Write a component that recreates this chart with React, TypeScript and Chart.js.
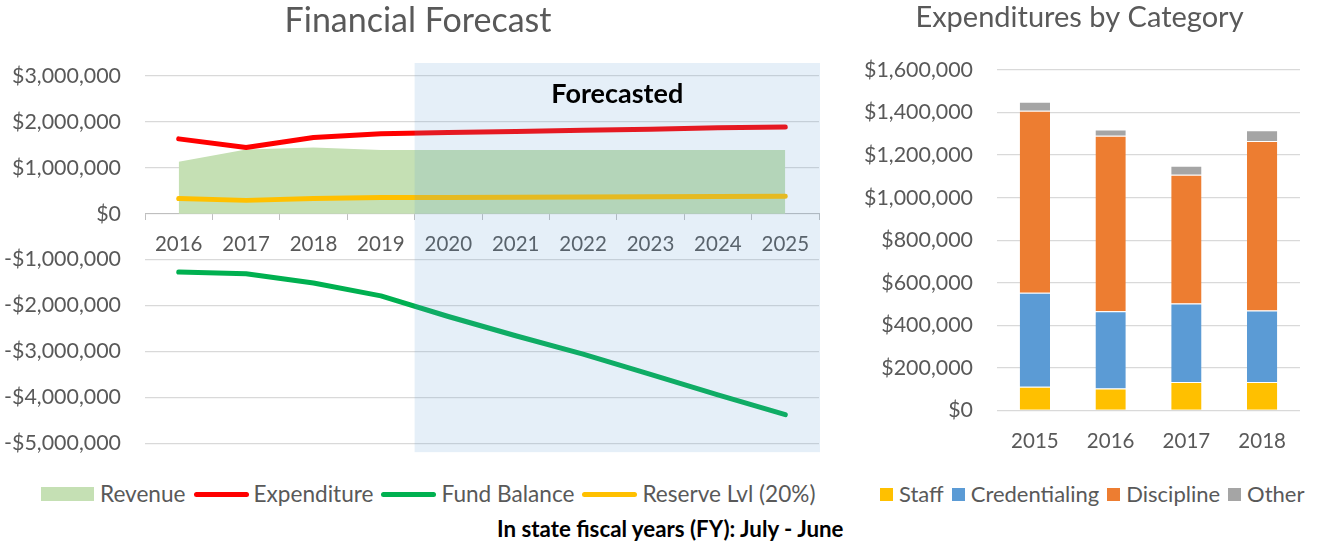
import React, { useEffect, useRef } from 'react';
import { Chart, registerables } from 'chart.js';

Chart.register(...registerables);

// ---------- data ----------
const forecastYears = ['2016', '2017', '2018', '2019', '2020', '2021', '2022', '2023', '2024', '2025'];
const forecastStartYear = '2020';
const revenue = [1130000, 1400000, 1440000, 1390000, 1390000, 1390000, 1390000, 1390000, 1390000, 1390000];
const expenditure = [1630000, 1440000, 1660000, 1740000, 1770000, 1790000, 1820000, 1840000, 1870000, 1890000];
const fundBalance = [-1270000, -1310000, -1510000, -1790000, -2240000, -2660000, -3060000, -3500000, -3950000, -4380000];
const reserveLevel = [330000, 290000, 330000, 350000, 355000, 360000, 365000, 370000, 375000, 380000];

const categoryYears = ['2015', '2016', '2017', '2018'];
const staff = [111000, 103000, 134000, 134000];
const credentialing = [442000, 363000, 369000, 336000];
const discipline = [856000, 825000, 605000, 796000];
const other = [42000, 29000, 42000, 51000];

// ---------- style ----------
const FONT = 'Lato, "Open Sans", sans-serif';
const TEXT = '#595959';
const GRID = '#D9D9D9';
const C_REV = '#C5E0B4';
const C_EXP = '#FF0000';
const C_FUND = '#00B050';
const C_RES = '#FFC000';
const C_STAFF = '#FFC000';
const C_CRED = '#5B9BD5';
const C_DISC = '#ED7D31';
const C_OTHER = '#A5A5A5';

const money = (v: number | string) => {
  const n = Number(v);
  const s = '$' + Math.abs(n).toLocaleString('en-US');
  return n < 0 ? '-' + s : s;
};

// Title drawn at an explicit centre (the reference title is not centred on the canvas)
const placedTitle = {
  id: 'placedTitle',
  afterDraw(chart: any, _args: any, opts: any) {
    if (!opts || !opts.text) return;
    const { ctx } = chart;
    ctx.save();
    ctx.fillStyle = TEXT;
    ctx.font = `${opts.size}px ${FONT}`;
    ctx.textAlign = 'center';
    ctx.textBaseline = 'middle';
    ctx.fillText(opts.text, opts.x, opts.y);
    ctx.restore();
  },
};

const forecastShade = {
  id: 'forecastShade',
  afterDraw(chart: any) {
    const { ctx, chartArea, scales } = chart;
    const idx = forecastYears.indexOf(forecastStartYear);
    const x0 = scales.x.getPixelForValue(idx - 0.5);
    const x1 = chartArea.right + 1;
    const y0 = chartArea.top - 13;
    const y1 = chartArea.bottom + 9;
    ctx.save();
    ctx.fillStyle = 'rgba(91,155,213,0.16)';
    ctx.fillRect(x0, y0, x1 - x0, y1 - y0);
    ctx.fillStyle = '#000000';
    ctx.font = 'bold 27px ' + FONT;
    ctx.textAlign = 'center';
    ctx.textBaseline = 'middle';
    ctx.fillText('Forecasted', (x0 + x1) / 2, chartArea.top + 18);
    ctx.restore();
  },
};

function ForecastChart() {
  const ref = useRef<HTMLCanvasElement>(null);
  useEffect(() => {
    const lineDs = (label: string, data: number[], color: string) => ({
      label,
      data,
      borderColor: color,
      backgroundColor: color,
      borderWidth: 5,
      pointRadius: 0,
      fill: false,
      tension: 0,
      borderCapStyle: 'round',
      borderJoinStyle: 'round',
      order: 0,
    });
    const chart = new Chart(ref.current as HTMLCanvasElement, {
      type: 'line',
      data: {
        labels: forecastYears,
        datasets: [
          {
            label: 'Revenue',
            data: revenue,
            fill: 'origin',
            backgroundColor: C_REV,
            borderColor: C_REV,
            borderWidth: 0,
            pointRadius: 0,
            tension: 0,
            order: 1,
          },
          lineDs('Expenditure', expenditure, C_EXP),
          lineDs('Fund Balance', fundBalance, C_FUND),
          lineDs('Reserve Lvl (20%)', reserveLevel, C_RES),
        ] as any,
      },
      options: {
        responsive: false,
        animation: false,
        layout: { padding: { left: 0, right: 11, top: 76, bottom: 18 } },
        plugins: {
          legend: { display: false },
          tooltip: { enabled: false },
          title: { display: false },
          placedTitle: { text: 'Financial Forecast', x: 418, y: 21, size: 34 },
        },
        scales: {
          x: {
            type: 'category',
            position: { y: 0 } as any,
            offset: true,
            grid: { drawOnChartArea: false, drawTicks: true, tickLength: 6, offset: true, color: '#BFBFBF' },
            border: { display: true, color: '#BFBFBF' },
            ticks: { color: TEXT, font: { family: FONT, size: 20.5 }, padding: 12, maxRotation: 0, autoSkip: false },
          },
          y: {
            min: -5000000,
            max: 3000000,
            ticks: { stepSize: 1000000, padding: 24, color: TEXT, font: { family: FONT, size: 21.4 }, callback: (v: any) => money(v) },
            grid: { color: GRID, drawTicks: false, lineWidth: 1.3 },
            border: { display: false },
            afterFit: (s: any) => { s.width = 145; },
          },
        },
      } as any,
      plugins: [forecastShade, placedTitle],
    });
    return () => chart.destroy();
  }, []);
  return <canvas ref={ref} width={830} height={480} style={{ position: 'absolute', left: 0, top: 0 }} />;
}

function CategoryChart() {
  const ref = useRef<HTMLCanvasElement>(null);
  useEffect(() => {
    const barDs = (label: string, data: number[], color: string) => ({
      label,
      data,
      backgroundColor: color,
      borderColor: 'rgba(255,255,255,0.7)',
      borderWidth: { top: 1, left: 0, right: 0, bottom: 0 },
      borderSkipped: false,
    });
    const chart = new Chart(ref.current as HTMLCanvasElement, {
      type: 'bar',
      data: {
        labels: categoryYears,
        datasets: [
          barDs('Staff', staff, C_STAFF),
          barDs('Credentialing', credentialing, C_CRED),
          barDs('Discipline', discipline, C_DISC),
          barDs('Other', other, C_OTHER),
        ] as any,
      },
      options: {
        responsive: false,
        animation: false,
        datasets: { bar: { categoryPercentage: 1, barPercentage: 0.4 } },
        layout: { padding: { left: 19, right: 19, top: 0, bottom: 7 } },
        plugins: {
          legend: { display: false },
          tooltip: { enabled: false },
          title: {
            display: true,
            text: 'Expenditures by Category',
            color: TEXT,
            font: { family: FONT, size: 29, weight: 'normal' },
            padding: { top: 0.6, bottom: 34.6 },
          },
        },
        scales: {
          x: {
            stacked: true,
            grid: { drawOnChartArea: false, drawTicks: false },
            border: { display: false },
            ticks: { color: TEXT, font: { family: FONT, size: 20.5 }, padding: 19 },
          },
          y: {
            stacked: true,
            min: 0,
            max: 1600000,
            ticks: { stepSize: 200000, padding: 24, color: TEXT, font: { family: FONT, size: 21.4 }, callback: (v: any) => money(v) },
            grid: { color: GRID, drawTicks: false, lineWidth: 1.3 },
            border: { display: false },
            afterFit: (s: any) => { s.width = 138; },
          },
        },
      } as any,
    });
    return () => chart.destroy();
  }, []);
  return <canvas ref={ref} width={479} height={480} style={{ position: 'absolute', left: 840, top: 0 }} />;
}

const legendText: React.CSSProperties = { marginRight: 8, whiteSpace: 'nowrap' };

export default function App() {
  const rowStyle: React.CSSProperties = {
    position: 'absolute',
    top: 482,
    height: 24,
    display: 'flex',
    alignItems: 'center',
    fontFamily: FONT,
    color: TEXT,
    lineHeight: '24px',
  };
  return (
    <div style={{ position: 'absolute', left: 0, top: 0, width: 1319, height: 543, background: '#fff', overflow: 'hidden' }}>
      <ForecastChart />
      <CategoryChart />
      <div style={{ ...rowStyle, left: 41, fontSize: 22.6 }}>
        <span style={{ width: 53, height: 14, background: C_REV, marginRight: 6, display: 'inline-block' }} />
        <span style={legendText}>Revenue</span>
        <span style={{ width: 55, height: 5, borderRadius: 3, background: C_EXP, marginRight: 5, display: 'inline-block' }} />
        <span style={legendText}>Expenditure</span>
        <span style={{ width: 55, height: 5, borderRadius: 3, background: C_FUND, marginRight: 5, display: 'inline-block' }} />
        <span style={legendText}>Fund Balance</span>
        <span style={{ width: 55, height: 5, borderRadius: 3, background: C_RES, marginRight: 5, display: 'inline-block' }} />
        <span style={legendText}>Reserve Lvl (20%)</span>
      </div>
      <div style={{ ...rowStyle, left: 880, fontSize: 22 }}>
        <span style={{ width: 13, height: 13, background: C_STAFF, marginRight: 6, display: 'inline-block' }} />
        <span style={legendText}>Staff</span>
        <span style={{ width: 13, height: 13, background: C_CRED, marginRight: 6, display: 'inline-block' }} />
        <span style={legendText}>Credentialing</span>
        <span style={{ width: 13, height: 13, background: C_DISC, marginRight: 6, display: 'inline-block' }} />
        <span style={legendText}>Discipline</span>
        <span style={{ width: 13, height: 13, background: C_OTHER, marginRight: 6, display: 'inline-block' }} />
        <span style={legendText}>Other</span>
      </div>
      <div style={{ position: 'absolute', left: 497, top: 517, fontFamily: FONT, fontWeight: 'bold', fontSize: 22.3, color: '#000', lineHeight: '24px', whiteSpace: 'nowrap' }}>
        In state fiscal years (FY): July - June
      </div>
    </div>
  );
}
